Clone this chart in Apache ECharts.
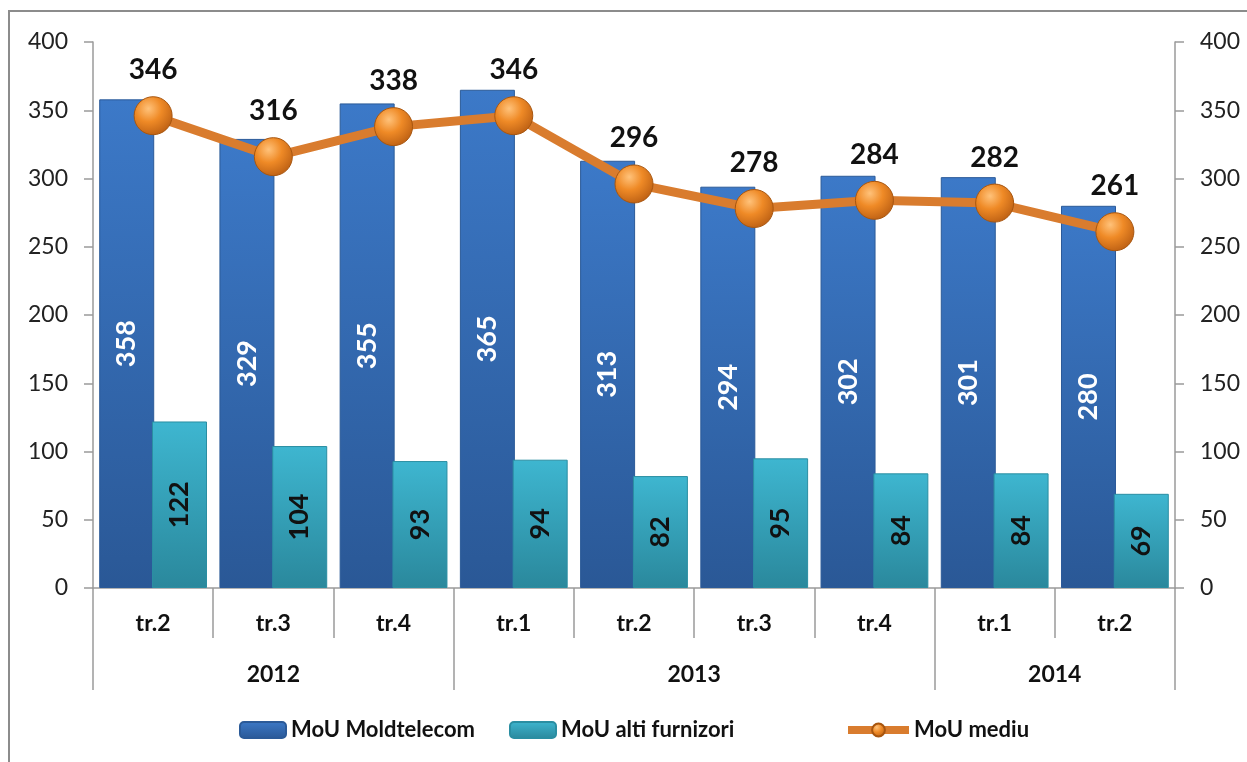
<!DOCTYPE html>
<html>
<head>
<meta charset="utf-8">
<script src="https://cdn.jsdelivr.net/npm/echarts@6/dist/echarts.min.js"></script>
<style>
  html, body { margin: 0; padding: 0; background: #fff; }
  #chart { width: 1247px; height: 762px; }
</style>
</head>
<body>
<div id="chart"></div>
<script>
// date trimestriale
const quarters = ['tr.2', 'tr.3', 'tr.4', 'tr.1', 'tr.2', 'tr.3', 'tr.4', 'tr.1', 'tr.2'];
const years = ['2012', '2013', '2014'];
const yearBounds = [0, 3, 7, 9];   // limitele grupelor de ani, in trimestre
const moldtelecom = [358, 329, 355, 365, 313, 294, 302, 301, 280];
const altiFurnizori = [122, 104, 93, 94, 82, 95, 84, 84, 69];
const mouMediu = [346, 316, 338, 346, 296, 278, 284, 282, 261];
const yTicks = [0, 50, 100, 150, 200, 250, 300, 350, 400];

const FONT = 'Lato, "Open Sans", sans-serif';
const AXIS_GRAY = '#9a9a9a';
const BLUE = new echarts.graphic.LinearGradient(0, 0, 0, 1, [
  { offset: 0, color: '#3c79c8' },
  { offset: 1, color: '#2a5896' }
]);
const TEAL = new echarts.graphic.LinearGradient(0, 0, 0, 1, [
  { offset: 0, color: '#3eb6d0' },
  { offset: 1, color: '#2a889c' }
]);
const BALL = new echarts.graphic.RadialGradient(0.38, 0.32, 0.75, [
  { offset: 0, color: '#ffc27a' },
  { offset: 0.45, color: '#ef8a26' },
  { offset: 1, color: '#b85c12' }
]);

const chart = echarts.init(document.getElementById('chart'));

// centrul fiecarei grupe de ani pe axa valorica 0..9
const yearCenters = years.map((y, i) => (yearBounds[i] + yearBounds[i + 1]) / 2);

const yAxisCommon = {
  type: 'value',
  min: yTicks[0],
  max: yTicks[yTicks.length - 1],
  interval: 50,
  axisLine: { show: true, lineStyle: { color: AXIS_GRAY, width: 1.5 } },
  axisTick: { show: true, length: 9, lineStyle: { color: AXIS_GRAY, width: 1.5 } },
  splitLine: { show: false },
  axisLabel: { margin: 25, fontFamily: FONT, fontSize: 23, color: '#222' }
};

const legendCommon = {
  top: 714,
  itemWidth: 46,
  itemHeight: 16,
  textStyle: { fontFamily: FONT, fontSize: 22, fontWeight: 'bold', color: '#111' }
};

chart.setOption({
  animation: false,
  backgroundColor: '#fff',
  graphic: [{
    type: 'rect',
    shape: { x: 9, y: 11, width: 1400, height: 900 },
    style: { fill: 'none', stroke: '#8c8c8c', lineWidth: 2 },
    silent: true
  }],
  grid: { left: 93, right: 72, top: 42, bottom: 174 },
  legend: [
    Object.assign({}, legendCommon, { left: 234, data: ['MoU Moldtelecom'] }),
    Object.assign({}, legendCommon, { left: 504, data: ['MoU alti furnizori'] }),
    Object.assign({}, legendCommon, {
      left: 839,
      itemWidth: 61,
      data: [{ name: 'MoU mediu', lineStyle: { width: 8, color: '#d97c2e' } }]
    })
  ],
  xAxis: [
    {
      type: 'category',
      data: quarters,
      boundaryGap: true,
      axisLine: { show: true, lineStyle: { color: AXIS_GRAY, width: 1.5 } },
      axisTick: { show: true, interval: 0, length: 50, lineStyle: { color: AXIS_GRAY, width: 1.5 } },
      axisLabel: { interval: 0, margin: 24, fontFamily: FONT, fontSize: 23, fontWeight: 'bold', color: '#111' }
    },
    {
      type: 'value',
      position: 'bottom',
      min: yearBounds[0],
      max: yearBounds[yearBounds.length - 1],
      axisLine: { show: false },
      splitLine: { show: false },
      axisTick: { show: true, length: 102, customValues: yearBounds, lineStyle: { color: AXIS_GRAY, width: 1.5 } },
      axisLabel: {
        customValues: yearCenters,
        margin: 75,
        fontFamily: FONT, fontSize: 23, fontWeight: 'bold', color: '#111',
        formatter: v => years[yearCenters.indexOf(v)] || ''
      }
    }
  ],
  yAxis: [
    Object.assign({}, yAxisCommon, { position: 'left' }),
    Object.assign({}, yAxisCommon, { position: 'right' })
  ],
  series: [
    {
      name: 'MoU Moldtelecom',
      type: 'bar',
      data: moldtelecom,
      barWidth: 55,
      barGap: '-4%',
      itemStyle: { color: BLUE, borderColor: '#2b5a98', borderWidth: 1 },
      label: {
        show: true, position: 'inside', rotate: 90,
        fontFamily: FONT, fontSize: 27, fontWeight: 'bold', color: '#fff'
      }
    },
    {
      name: 'MoU alti furnizori',
      type: 'bar',
      data: altiFurnizori,
      barWidth: 55,
      barGap: '-4%',
      itemStyle: { color: TEAL, borderColor: '#2a8ea2', borderWidth: 1 },
      label: {
        show: true, position: 'inside', rotate: 90,
        fontFamily: FONT, fontSize: 27, fontWeight: 'bold', color: '#111'
      }
    },
    {
      name: 'MoU mediu',
      type: 'line',
      yAxisIndex: 1,
      data: mouMediu,
      symbol: 'circle',
      symbolSize: 38,
      z: 5,
      lineStyle: { color: '#d97c2e', width: 9 },
      itemStyle: { color: BALL, borderColor: '#a8560f', borderWidth: 1 },
      label: {
        show: true, position: 'top', distance: 12,
        fontFamily: FONT, fontSize: 28, fontWeight: 'bold', color: '#111'
      }
    }
  ]
});
</script>
</body>
</html>
